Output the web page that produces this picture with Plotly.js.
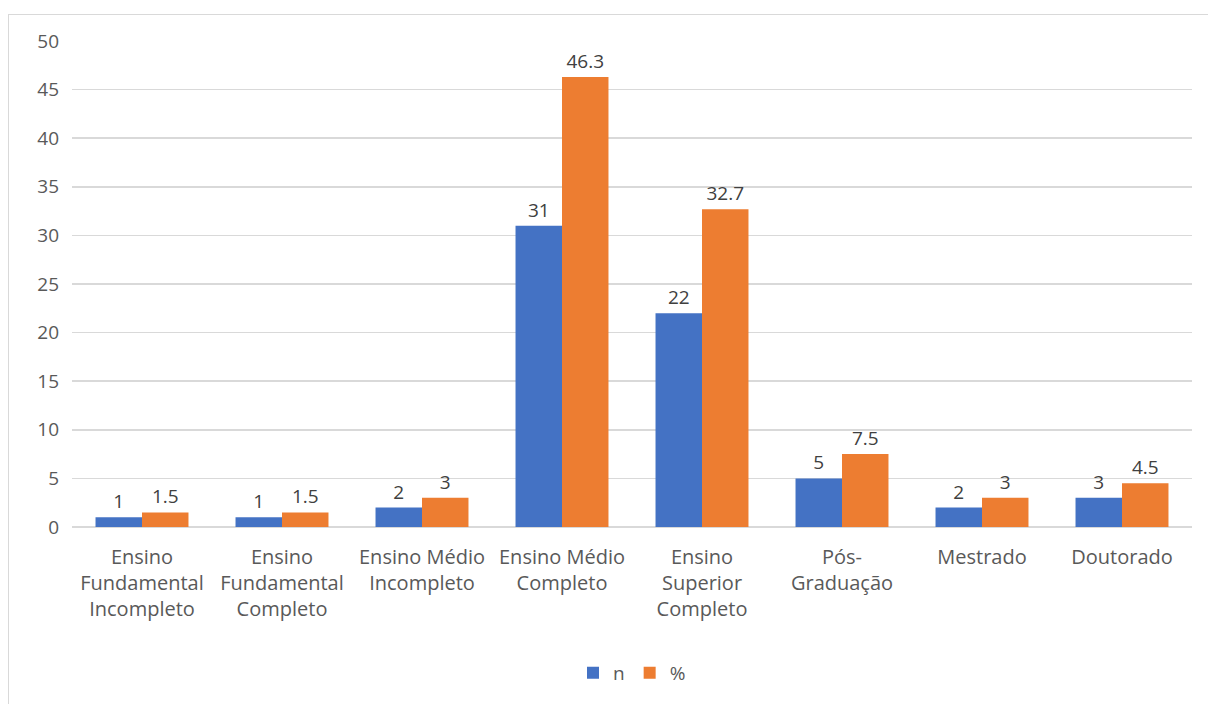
<!DOCTYPE html>
<html>
<head>
<meta charset="utf-8">
<script src="https://cdn.plot.ly/plotly-3.0.1.min.js"></script>
<style>
  html, body { margin: 0; padding: 0; background: #fff; }
  #wrap { position: relative; width: 1208px; height: 704px; overflow: hidden; }
  #chart { width: 1208px; height: 704px; }
  #frame { position: absolute; left: 8px; top: 14px; width: 1400px; height: 900px;
           border: 1px solid #d9d9d9; pointer-events: none; }
</style>
</head>
<body>
<div id="wrap">
  <div id="chart"></div>
  <div id="frame"></div>
</div>
<script>
const categories = [
  "Ensino<br>Fundamental<br>Incompleto",
  "Ensino<br>Fundamental<br>Completo",
  "Ensino Médio<br>Incompleto",
  "Ensino Médio<br>Completo",
  "Ensino<br>Superior<br>Completo",
  "Pós-<br>Graduação",
  "Mestrado",
  "Doutorado"
];
const nValues = [1, 1, 2, 31, 22, 5, 2, 3];
const pctValues = [1.5, 1.5, 3, 46.3, 32.7, 7.5, 3, 4.5];
const yTicks = [0, 5, 10, 15, 20, 25, 30, 35, 40, 45, 50];

const fontFam = "'Open Sans', 'Noto Sans', sans-serif";

const traces = [
  {
    type: "bar", name: "n", x: categories, y: nValues,
    marker: { color: "#4472C4" },
    text: nValues.map(String), textposition: "outside", cliponaxis: false,
    textfont: { family: fontFam, size: 19, color: "#404040" }
  },
  {
    type: "bar", name: "%", x: categories, y: pctValues,
    marker: { color: "#ED7D31" },
    text: pctValues.map(String), textposition: "outside", cliponaxis: false,
    textfont: { family: fontFam, size: 19, color: "#404040" }
  }
];

const layout = {
  width: 1208, height: 704,
  margin: { l: 72, r: 16, t: 41, b: 175 },
  paper_bgcolor: "#fff", plot_bgcolor: "#fff",
  font: { family: fontFam, size: 19, color: "#595959" },
  barmode: "group", bargap: 0.336, bargroupgap: 0,
  showlegend: true,
  legend: { orientation: "h", x: 0.5, xanchor: "center", y: -0.3, yanchor: "middle",
            font: { family: fontFam, size: 19, color: "#595959" }, itemwidth: 30 },
  xaxis: {
    type: "category", tickangle: 0, showgrid: false, showline: false, zeroline: false,
    ticks: "", tickfont: { family: fontFam, size: 20, color: "#595959" },
    ticklabelstandoff: 16
  },
  yaxis: {
    range: [0, 50], tickvals: yTicks, ticktext: yTicks.map(String),
    showgrid: true, gridcolor: "#d9d9d9", gridwidth: 1.5,
    zeroline: true, zerolinecolor: "#d9d9d9", zerolinewidth: 1.5,
    showline: false, ticks: "", ticklabelstandoff: 12,
    tickfont: { family: fontFam, size: 19, color: "#595959" }
  }
};

Plotly.newPlot("chart", traces, layout, { displayModeBar: false, staticPlot: true });
</script>
</body>
</html>
